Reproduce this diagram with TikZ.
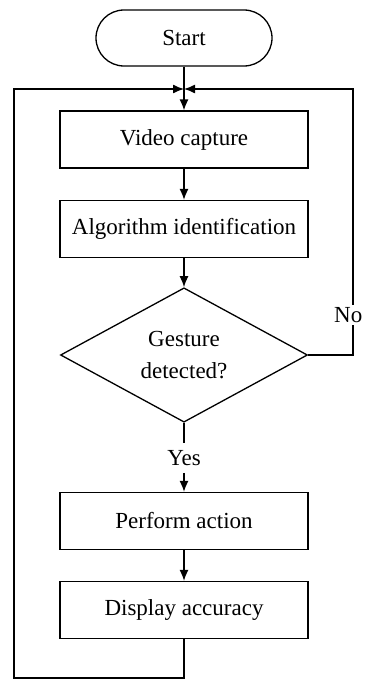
\documentclass[tikz,border=0pt]{standalone}
\usepackage{fontspec}
\setmainfont{Liberation Serif}
\usetikzlibrary{arrows.meta}
\usetikzlibrary{shapes.geometric}
\usetikzlibrary{positioning}

\begin{document}
\begin{tikzpicture}[
	x=0.5pt, y=-0.5pt, every node/.style={font=\fontsize{11.5}{13.5}\selectfont},
  > = {Latex[length=5.5pt,width=4.5pt]},
  line width=0.65pt,
  terminal/.style = {draw,rectangle,rounded corners=14pt,minimum width=88pt,minimum height=28pt},
  procbox/.style = {draw,rectangle,minimum width=124pt,minimum height=28.5pt},
  decision/.style = {draw,diamond,align=center,inner sep=0pt,minimum width=123.5pt,minimum height=65.5pt,
  	font=\fontsize{11.5}{16}\selectfont}
  ]
	\useasboundingbox (0,0) rectangle (366,680);

	\coordinate (@merge) at (184,89);
	\coordinate (@bottom) at (184,678);

	\node[terminal] (start) at (184,38) {Start};
	\node[procbox] (video) at (184,139.5) {Video capture};
	\node[procbox] (algo) at (184,229) {Algorithm identification};
	\node[decision] (gesture) at (184,355) {Gesture\\detected?};
	\node (yes) at (184,458) {Yes};
	\node[procbox] (perform) at (184,521) {Perform action};
	\node[procbox] (display) at (184,610) {Display accuracy};

  	\draw[->] (start) -- (video);
	\draw[->] (video) -- (algo);
	\draw[->] (algo) -- (gesture);
	\draw (gesture) -- (yes);
	\draw[->] (yes) -- (perform);
	\draw[->] (perform) -- (display);

	% loop back from the end
	\draw[->] (display) -- (@bottom) -- (14,678) |- (@merge);
	% no gesture found
	\draw[->] (gesture.east) -- (353,355) |- (@merge);
	\node[fill=white,inner sep=1pt,anchor=east] (no) at (365,315) {No};

\end{tikzpicture}
\end{document}
